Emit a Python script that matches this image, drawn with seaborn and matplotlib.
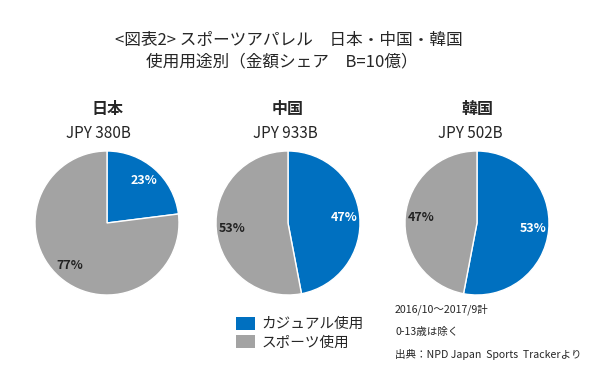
import matplotlib
matplotlib.use("Agg")
import matplotlib.pyplot as plt
import seaborn as sns
from matplotlib.patches import Patch

sns.set_theme(style="white")
plt.rcParams['font.family'] = ['Noto Sans CJK JP', 'DejaVu Sans']

countries = ["日本", "中国", "韓国"]
market_size = ["JPY 380B", "JPY 933B", "JPY 502B"]
casual_share = [23, 47, 53]
sports_share = [77, 53, 47]
segments = ["カジュアル使用", "スポーツ使用"]
notes = ["2016/10～2017/9計", "0-13歳は除く", "出典：NPD Japan  Sports  Trackerより"]

colors = ["#0070C0", "#A3A3A3"]

W, H = 600, 379
fig = plt.figure(figsize=(6, 3.79), dpi=100)

fig.text(0.482, 1 - 40 / H, "<図表2> スポーツアパレル　日本・中国・韓国", ha="center", va="center", fontsize=12)
fig.text(0.470, 1 - 62 / H, "使用用途別（金額シェア　B=10億）", ha="center", va="center", fontsize=12)

centers_x = [107, 288, 477]
jpy_x = [98, 285, 470]
cy = 223
r = 72
for i, cx in enumerate(centers_x):
    ax = fig.add_axes([(cx - r) / W, 1 - (cy + r) / H, 2 * r / W, 2 * r / H])
    vals = [casual_share[i], sports_share[i]]
    wedges, texts, autotexts = ax.pie(
        vals, colors=colors, startangle=90, counterclock=False,
        autopct=lambda p: f"{round(p):d}%", pctdistance=0.78,
        textprops=dict(fontsize=9, fontweight="bold"))
    autotexts[0].set_color("white")
    autotexts[1].set_color("#222222")
    ax.set_aspect("auto")
    ax.set_xlim(-1, 1)
    ax.set_ylim(-1, 1)
    fig.text(cx / W, 1 - 109 / H, countries[i], ha="center", va="center", fontsize=11.5, fontweight="bold")
    fig.text(jpy_x[i] / W, 1 - 134 / H, market_size[i], ha="center", va="center", fontsize=11)

handles = [Patch(facecolor=c, edgecolor="none") for c in colors]
fig.legend(handles, segments, loc="upper left", bbox_to_anchor=(224 / W, 1 - 305 / H),
           frameon=False, fontsize=10.5, handlelength=1.3, handleheight=1.0,
           handletextpad=0.45, labelspacing=0.25, borderpad=0.3)

for note, y in zip(notes, [309, 332, 355]):
    fig.text(395 / W, 1 - y / H, note, ha="left", va="center", fontsize=7.6)

fig.savefig("out.png", dpi=100)
